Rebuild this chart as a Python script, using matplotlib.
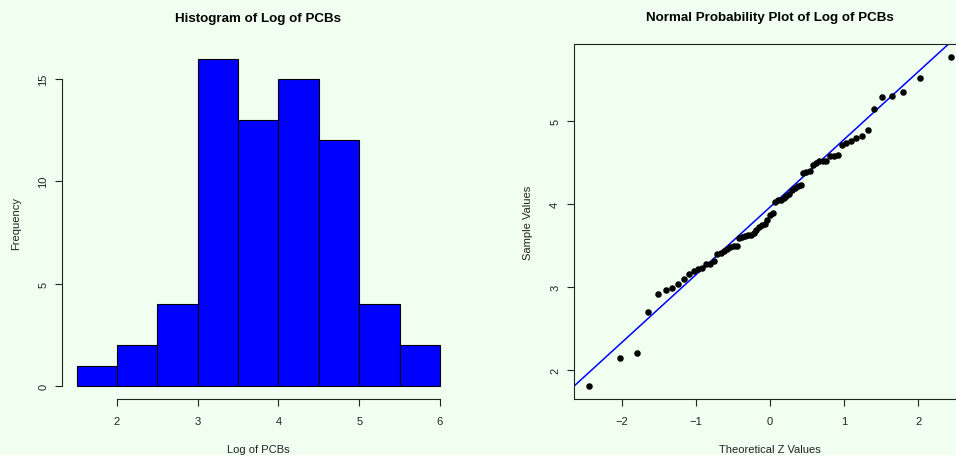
import numpy as np
import matplotlib
matplotlib.use("Agg")
import matplotlib.pyplot as plt
from statistics import NormalDist

# Log of PCB concentrations (sorted sample, n = 69)
log_pcb = [
    1.81, 2.15, 2.21, 2.70, 2.91, 2.96, 2.99,
    3.04, 3.10, 3.15, 3.19, 3.22, 3.23, 3.27, 3.27, 3.31, 3.39,
    3.41, 3.43, 3.46, 3.48, 3.49, 3.49,
    3.59, 3.60, 3.61, 3.62, 3.63, 3.65, 3.68, 3.72, 3.74, 3.76,
    3.80, 3.87, 3.89,
    4.02, 4.04, 4.05, 4.07, 4.09, 4.12, 4.17, 4.19, 4.21, 4.23,
    4.37, 4.38, 4.40, 4.47, 4.49,
    4.51, 4.52, 4.52, 4.57, 4.58, 4.59, 4.71, 4.735, 4.76, 4.79,
    4.81, 4.89,
    5.14, 5.29, 5.30, 5.35,
    5.51, 5.76,
]
bin_edges = [1.5, 2.0, 2.5, 3.0, 3.5, 4.0, 4.5, 5.0, 5.5, 6.0]
hist_xticks = [2, 3, 4, 5, 6]
hist_yticks = [0, 5, 10, 15]
qq_xticks = [-2, -1, 0, 1, 2]
qq_yticks = [2, 3, 4, 5]

BG = "#F0FFF0"
FONT = "Liberation Sans"
plt.rcParams["font.family"] = [FONT, "DejaVu Sans"]
plt.rcParams["font.size"] = 8
plt.rcParams["axes.unicode_minus"] = True

W, H = 956, 456
fig = plt.figure(figsize=(W / 100, H / 100), dpi=100, facecolor=BG)


def px_axes(left, top, right, bottom):
    return fig.add_axes([left / W, 1 - bottom / H, (right - left) / W, (bottom - top) / H])


def r_range(lo, hi):
    pad = 0.04 * (hi - lo)
    return lo - pad, hi + pad


# ---------- histogram (right-closed bins, lowest included) ----------
vals = np.asarray(log_pcb)
counts = []
for k in range(len(bin_edges) - 1):
    a, b = bin_edges[k], bin_edges[k + 1]
    if k == 0:
        counts.append(int(np.sum((vals >= a) & (vals <= b))))
    else:
        counts.append(int(np.sum((vals > a) & (vals <= b))))

ax1 = px_axes(62.1, 46.4, 454.5, 400.1)
ax1.set_facecolor(BG)
ax1.bar(bin_edges[:-1], counts, width=np.diff(bin_edges), align="edge",
        color="#0000FF", edgecolor="black", linewidth=0.8)
ax1.set_xlim(*r_range(bin_edges[0], bin_edges[-1]))
ax1.set_ylim(*r_range(0, max(counts)))
for s in ("top", "right"):
    ax1.spines[s].set_visible(False)
ax1.spines["left"].set_bounds(hist_yticks[0], hist_yticks[-1])
ax1.spines["bottom"].set_bounds(hist_xticks[0], hist_xticks[-1])
ax1.set_xticks(hist_xticks)
ax1.set_yticks(hist_yticks)
ax1.set_title("Histogram of Log of PCBs", fontsize=9.6, fontweight="bold", pad=17.5)
ax1.set_xlabel("Log of PCBs", labelpad=13.3)
ax1.set_ylabel("Frequency", labelpad=12)

# ---------- normal probability plot ----------
n = len(vals)
nd = NormalDist()
z = np.array([nd.inv_cdf((i - 0.5) / n) for i in range(1, n + 1)])
q1, q3 = np.quantile(vals, [0.25, 0.75])
zq1, zq3 = nd.inv_cdf(0.25), nd.inv_cdf(0.75)
slope = (q3 - q1) / (zq3 - zq1)
intercept = q1 - slope * zq1

ax2 = px_axes(574, 45.3, 966, 400)
ax2.set_facecolor(BG)
ax2.scatter(z, vals, s=22, color="black", linewidths=0, zorder=3)
ax2.axline((0, intercept), slope=slope, color="#0000FF", linewidth=1.1, zorder=2)
ax2.set_xlim(*r_range(z.min(), z.max()))
ax2.set_ylim(*r_range(vals.min(), vals.max()))
ax2.set_xticks(qq_xticks)
ax2.set_yticks(qq_yticks)
ax2.set_title("Normal Probability Plot of Log of PCBs", fontsize=9.6, fontweight="bold", pad=17.5)
ax2.set_xlabel("Theoretical Z Values", labelpad=13.3)
ax2.set_ylabel("Sample Values", labelpad=12)

for ax in (ax1, ax2):
    for sp in ax.spines.values():
        sp.set_linewidth(0.8)
        sp.set_color("#222222")
    ax.tick_params(axis="x", length=5, width=0.8, color="#222222",
                   labelsize=8, pad=7, labelcolor="#222222")
    ax.tick_params(axis="y", length=5, width=0.8, color="#222222",
                   labelsize=8, pad=5, labelcolor="#222222")
    for lbl in ax.get_yticklabels():
        lbl.set_rotation(90)
        lbl.set_va("center")
    ax.xaxis.label.set_color("#222222")
    ax.yaxis.label.set_color("#222222")

fig.savefig("out.png", dpi=100, facecolor=BG)
